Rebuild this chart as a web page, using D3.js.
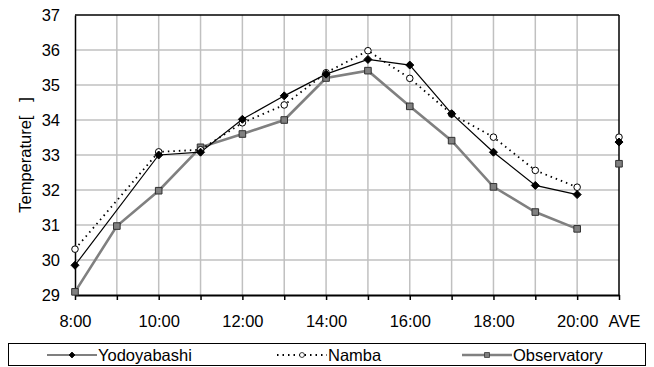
<!DOCTYPE html>
<html>
<head>
<meta charset="utf-8">
<script src="https://cdn.jsdelivr.net/npm/d3@7"></script>
<style>
  body { margin: 0; background: #fff; }
  text { font-family: "Liberation Sans", Arial, sans-serif; }
</style>
</head>
<body>
<div id="chart"></div>
<script>
// data ---------------------------------------------------------------
const categories = ['8:00','9:00','10:00','11:00','12:00','13:00','14:00','15:00','16:00','17:00','18:00','19:00','20:00','AVE'];
const tickLabels = ['8:00','10:00','12:00','14:00','16:00','18:00','20:00','AVE'];
const yodoyabashi = [29.85, null, 33.0, 33.08, 34.02, 34.69, 35.31, 35.73, 35.57, 34.18, 33.08, 32.13, 31.87, 33.37];
const namba       = [30.31, null, 33.09, 33.15, 33.92, 34.43, 35.35, 35.98, 35.19, 34.17, 33.51, 32.56, 32.08, 33.51];
const observatory = [29.09, 30.97, 31.98, 33.22, 33.6, 34.0, 35.2, 35.41, 34.39, 33.41, 32.09, 31.37, 30.89, 32.75];
const seriesNames = ['Yodoyabashi', 'Namba', 'Observatory'];

// chart init -----------------------------------------------------------
const W = 654, H = 367;
const margin = {top: 15, right: 35, bottom: 72, left: 75};
const width = W - margin.left - margin.right;
const height = H - margin.top - margin.bottom;
const FS = 16.5;

const svg = d3.select('#chart').append('svg')
  .attr('width', W).attr('height', H);

const g = svg.append('g')
  .attr('transform', 'translate(' + margin.left + ',' + margin.top + ')');

const xScale = d3.scalePoint().domain(categories).range([0, width]);
const yScale = d3.scaleLinear().domain([29, 37]).range([height, 0]);

// grid
g.append('g').selectAll('line')
  .data(d3.range(30, 37))
  .join('line')
  .attr('x1', 0).attr('x2', width)
  .attr('y1', d => yScale(d)).attr('y2', d => yScale(d))
  .attr('stroke', '#c0c0c0').attr('stroke-width', 1.5);

g.append('g').selectAll('line')
  .data(categories.slice(1, -1))
  .join('line')
  .attr('x1', d => xScale(d)).attr('x2', d => xScale(d))
  .attr('y1', 0).attr('y2', height)
  .attr('stroke', '#c0c0c0').attr('stroke-width', 1.5);

// frame top/right
g.append('line').attr('x1', 0).attr('x2', width).attr('y1', 0).attr('y2', 0)
  .attr('stroke', '#000').attr('stroke-width', 1.5);
g.append('line').attr('x1', width).attr('x2', width).attr('y1', 0).attr('y2', height)
  .attr('stroke', '#000').attr('stroke-width', 1.5);

// axes
const yAxis = d3.axisLeft(yScale).tickValues(d3.range(29, 38)).tickSize(0).tickPadding(15);
g.append('g').attr('class', 'y-axis').call(yAxis)
  .call(s => s.select('.domain').attr('stroke', '#000').attr('stroke-width', 1.5))
  .call(s => s.selectAll('text').attr('font-size', FS).attr('fill', '#000').attr('dy', '0.36em'));

const xAxis = d3.axisBottom(xScale).tickSizeInner(5).tickSizeOuter(0).tickPadding(15)
  .tickFormat(d => tickLabels.includes(d) ? d : '');
g.append('g').attr('class', 'x-axis')
  .attr('transform', 'translate(0,' + height + ')')
  .call(xAxis)
  .call(s => s.select('.domain').attr('stroke', '#000').attr('stroke-width', 2))
  .call(s => s.selectAll('line').attr('stroke', '#000').attr('stroke-width', 1.5))
  .call(s => s.selectAll('text').attr('font-size', FS).attr('fill', '#000'))
  .call(s => s.selectAll('.tick').filter(d => d === 'AVE').select('text').attr('dx', 5));

svg.append('text')
  .attr('transform', 'translate(31,' + (margin.top + height / 2) + ') rotate(-90)')
  .attr('text-anchor', 'middle')
  .attr('font-size', FS)
  .text('Temperature[\u00a0\u00a0\u00a0]');

// series
const styles = [
  {data: yodoyabashi, stroke: '#000', width: 1.2, dash: null, marker: 'diamond', fill: '#000', mstroke: '#000'},
  {data: namba, stroke: '#000', width: 1.8, dash: '1.5,4', marker: 'circle', fill: '#fff', mstroke: '#000'},
  {data: observatory, stroke: '#808080', width: 2.6, dash: null, marker: 'square', fill: '#808080', mstroke: '#303030'}
];

const line = d3.line()
  .x(d => xScale(d.c))
  .y(d => yScale(d.v));

function markerPath(type) {
  if (type === 'diamond') return 'M0,-4L4,0L0,4L-4,0Z';
  if (type === 'circle') return d3.symbol(d3.symbolCircle, 34)();
  return 'M-3.3,-3.3H3.3V3.3H-3.3Z';
}

styles.slice().reverse().forEach(s => {
  const pts = categories.map((c, i) => ({c, v: s.data[i]}));
  const linePts = pts.filter(p => p.c !== 'AVE' && p.v !== null);
  g.append('path')
    .datum(linePts)
    .attr('d', line)
    .attr('fill', 'none')
    .attr('stroke', s.stroke)
    .attr('stroke-width', s.width)
    .attr('stroke-dasharray', s.dash);
});

styles.slice().reverse().forEach(s => {
  const pts = categories.map((c, i) => ({c, v: s.data[i]})).filter(p => p.v !== null);
  g.append('g').selectAll('path')
    .data(pts)
    .join('path')
    .attr('d', markerPath(s.marker))
    .attr('transform', d => 'translate(' + xScale(d.c) + ',' + yScale(d.v) + ')')
    .attr('fill', s.fill)
    .attr('stroke', s.mstroke)
    .attr('stroke-width', 1);
});

// legend
const legend = svg.append('g');
legend.append('rect')
  .attr('x', 8.5).attr('y', 343.5).attr('width', 637).attr('height', 22)
  .attr('fill', '#fff').attr('stroke', '#000').attr('stroke-width', 1);

const legendX = [47, 277, 462];
styles.forEach((s, i) => {
  const x0 = legendX[i], y0 = 355;
  legend.append('line')
    .attr('x1', x0).attr('x2', x0 + 50).attr('y1', y0).attr('y2', y0)
    .attr('stroke', s.stroke).attr('stroke-width', s.width)
    .attr('stroke-dasharray', s.dash);
  legend.append('path')
    .attr('d', markerPath(s.marker))
    .attr('transform', 'translate(' + (x0 + 25) + ',' + y0 + ') scale(0.75)')
    .attr('fill', s.fill).attr('stroke', s.mstroke).attr('stroke-width', 1);
  legend.append('text')
    .attr('x', x0 + 51).attr('y', y0 + 6)
    .attr('font-size', FS)
    .text(seriesNames[i]);
});
</script>
</body>
</html>
